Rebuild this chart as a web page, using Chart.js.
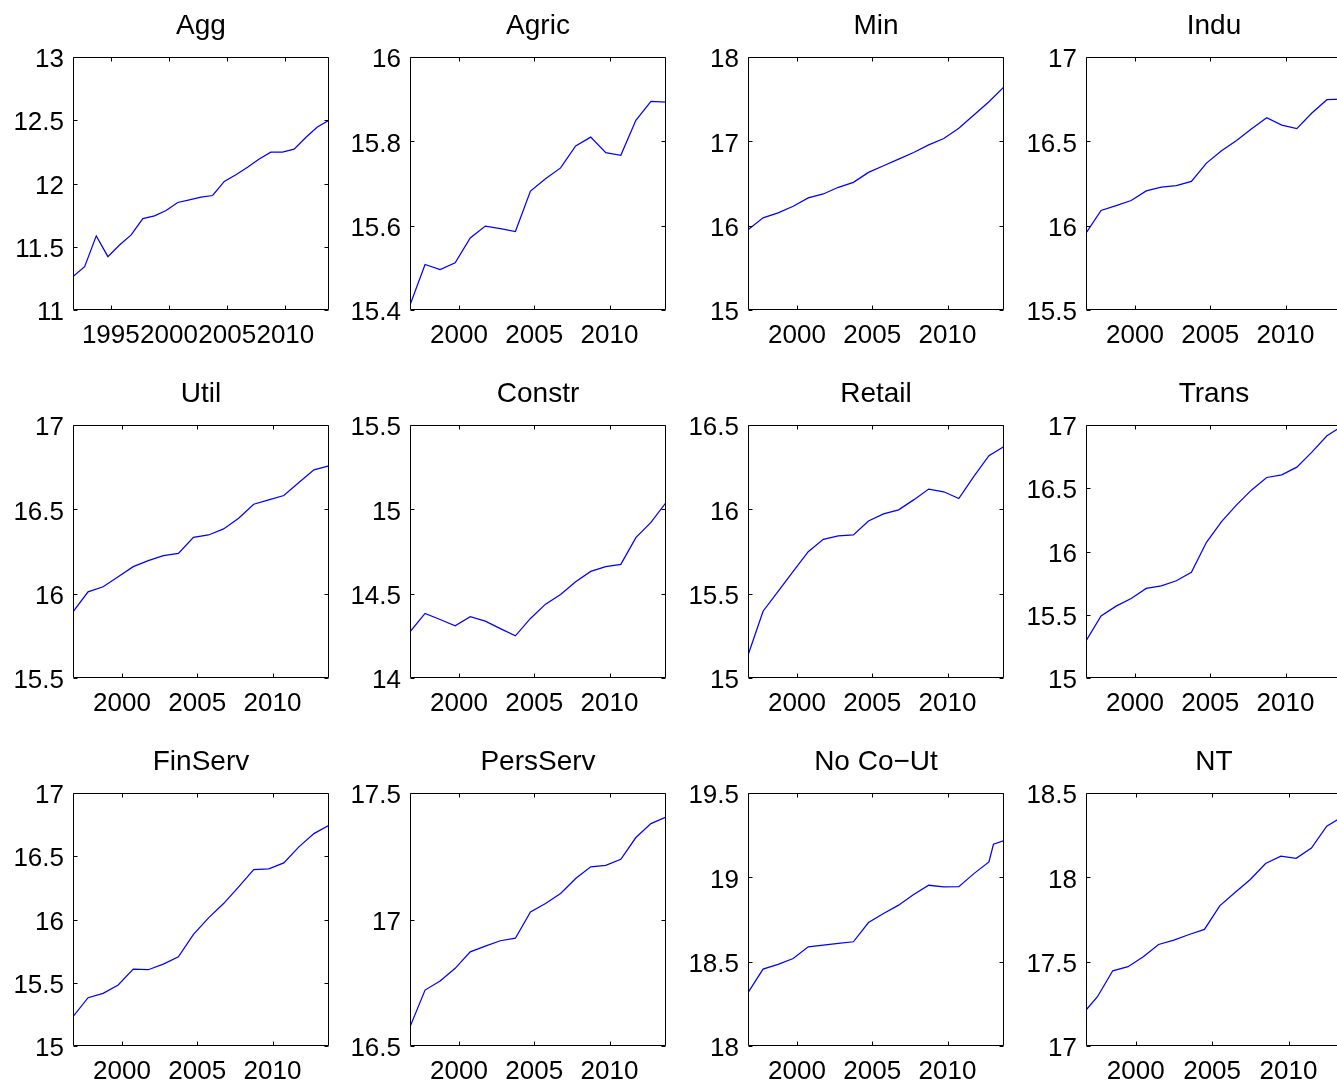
<!DOCTYPE html>
<html>
<head>
<meta charset="utf-8">
<title>Sector series</title>
<script src="https://cdn.jsdelivr.net/npm/chart.js@4.4.0/dist/chart.umd.min.js"></script>
<style>
  html, body { margin: 0; padding: 0; background: #fff; overflow: hidden; }
  #grid { position: relative; width: 1337px; height: 1084px; overflow: hidden; }
  #grid canvas { position: absolute; }
</style>
</head>
<body>
<div id="grid"></div>
<script>
// x values (year fractions as plotted)
var yearsAgg = [1991.75, 1992.75, 1993.75, 1994.75, 1995.75, 1996.75, 1997.75, 1998.75,
  1999.75, 2000.75, 2001.75, 2002.75, 2003.75, 2004.75, 2005.75, 2006.75, 2007.75,
  2008.75, 2009.75, 2010.75, 2011.75, 2012.75, 2013.75];
var years = [1996.75, 1997.75, 1998.75, 1999.75, 2000.75, 2001.75, 2002.75, 2003.75,
  2004.75, 2005.75, 2006.75, 2007.75, 2008.75, 2009.75, 2010.75, 2011.75, 2012.75, 2013.75];
var yearsNoCoUt = [1996.75, 1997.75, 1998.75, 1999.75, 2000.75, 2001.75, 2002.75, 2003.75,
  2004.75, 2005.75, 2006.75, 2007.75, 2008.75, 2009.75, 2010.75, 2011.75, 2012.75, 2013.05, 2013.75];
var yearsNT = [1996.75, 1997.5, 1998.5, 1999.5, 2000.5, 2001.5, 2002.5, 2003.5, 2004.5,
  2005.5, 2006.5, 2007.5, 2008.5, 2009.5, 2010.5, 2011.5, 2012.5, 2013.5];

var titles = ["Agg", "Agric", "Min", "Indu", "Util", "Constr", "Retail", "Trans",
  "FinServ", "PersServ", "No Co\u2212Ut", "NT"];

var agg = [11.264, 11.343, 11.586, 11.422, 11.514, 11.594, 11.723, 11.744, 11.786, 11.850,
  11.871, 11.892, 11.905, 12.016, 12.069, 12.129, 12.193, 12.248, 12.248, 12.272, 12.364, 12.446, 12.499];
var agric = [15.412, 15.508, 15.496, 15.512, 15.571, 15.599, 15.593, 15.586, 15.682, 15.711,
  15.737, 15.789, 15.810, 15.773, 15.767, 15.850, 15.895, 15.893];
var mining = [15.951, 16.093, 16.152, 16.230, 16.329, 16.376, 16.455, 16.514, 16.632, 16.710,
  16.789, 16.867, 16.958, 17.033, 17.155, 17.312, 17.469, 17.646];
var indu = [15.955, 16.090, 16.119, 16.149, 16.206, 16.228, 16.238, 16.262, 16.371, 16.444,
  16.505, 16.575, 16.640, 16.596, 16.575, 16.668, 16.747, 16.750];
var util = [15.892, 16.011, 16.041, 16.100, 16.160, 16.196, 16.225, 16.239, 16.334, 16.348,
  16.384, 16.447, 16.530, 16.556, 16.582, 16.659, 16.734, 16.758];
var constr = [14.274, 14.383, 14.347, 14.309, 14.363, 14.337, 14.293, 14.250, 14.353, 14.438,
  14.495, 14.571, 14.632, 14.660, 14.674, 14.832, 14.923, 15.040];
var retail = [15.135, 15.396, 15.513, 15.632, 15.749, 15.822, 15.842, 15.848, 15.931, 15.973,
  15.997, 16.056, 16.120, 16.104, 16.064, 16.195, 16.318, 16.373];
var trans = [15.293, 15.491, 15.568, 15.629, 15.708, 15.729, 15.769, 15.835, 16.073, 16.236,
  16.369, 16.487, 16.585, 16.606, 16.667, 16.786, 16.915, 16.990];
var finServ = [15.232, 15.382, 15.416, 15.482, 15.608, 15.603, 15.647, 15.705, 15.882, 16.013,
  16.126, 16.258, 16.395, 16.400, 16.447, 16.574, 16.679, 16.745];
var persServ = [16.576, 16.721, 16.757, 16.807, 16.872, 16.895, 16.916, 16.926, 17.030, 17.063,
  17.103, 17.162, 17.208, 17.214, 17.238, 17.324, 17.379, 17.405];
var noCoUt = [18.316, 18.456, 18.484, 18.519, 18.588, 18.598, 18.608, 18.618, 18.732, 18.786,
  18.835, 18.898, 18.953, 18.943, 18.945, 19.022, 19.091, 19.196, 19.218];
var nt = [17.213, 17.292, 17.446, 17.470, 17.529, 17.602, 17.628, 17.661, 17.691, 17.831,
  17.910, 17.987, 18.082, 18.125, 18.113, 18.174, 18.303, 18.358];

// tick labels
var xTicksAgg = [1995, 2000, 2005, 2010];
var xTicks = [2000, 2005, 2010];
var yTicksAgg = [11, 11.5, 12, 12.5, 13];
var yTicksAgric = [15.4, 15.6, 15.8, 16];
var yTicksMin = [15, 16, 17, 18];
var yTicksIndu = [15.5, 16, 16.5, 17];
var yTicksUtil = [15.5, 16, 16.5, 17];
var yTicksConstr = [14, 14.5, 15, 15.5];
var yTicksRetail = [15, 15.5, 16, 16.5];
var yTicksTrans = [15, 15.5, 16, 16.5, 17];
var yTicksFinServ = [15, 15.5, 16, 16.5, 17];
var yTicksPersServ = [16.5, 17, 17.5];
var yTicksNoCoUt = [18, 18.5, 19, 19.5];
var yTicksNT = [17, 17.5, 18, 18.5];

document.addEventListener("DOMContentLoaded", function() {
  var grid = document.getElementById("grid");

  var seriesX = [yearsAgg, years, years, years, years, years, years, years, years, years, yearsNoCoUt, yearsNT];
  var seriesY = [agg, agric, mining, indu, util, constr, retail, trans, finServ, persServ, noCoUt, nt];
  var panelXTicks = [xTicksAgg, xTicks, xTicks, xTicks, xTicks, xTicks, xTicks, xTicks, xTicks, xTicks, xTicks, xTicks];
  var panelYTicks = [yTicksAgg, yTicksAgric, yTicksMin, yTicksIndu, yTicksUtil, yTicksConstr,
    yTicksRetail, yTicksTrans, yTicksFinServ, yTicksPersServ, yTicksNoCoUt, yTicksNT];

  // plot frame positions on the page
  var colLeft = [73, 410, 748, 1086];
  var rowTop = [57, 425, 793];
  var plotW = 256, plotH = 253;
  var axisW = 73, titleH = 57, xAxisH = 45;

  var font = "'Liberation Sans', Arial, Helvetica, sans-serif";

  // MATLAB style box with inward tick marks on all four sides
  var boxTicks = {
    id: "boxTicks",
    afterDatasetsDraw: function(chart) {
      var a = chart.chartArea;
      var ctx = chart.ctx;
      var xs = chart.scales.x, ys = chart.scales.y;
      var l = Math.round(a.left) + 0.5, r = Math.round(a.right) - 0.5;
      var t = Math.round(a.top) + 0.5, b = Math.round(a.bottom) - 0.5;
      ctx.save();
      ctx.strokeStyle = "#000";
      ctx.lineWidth = 1;
      ctx.beginPath();
      ctx.rect(l, t, r - l, b - t);
      xs.ticks.forEach(function(tk) {
        var px = Math.round(xs.getPixelForValue(tk.value)) + 0.5;
        ctx.moveTo(px, b); ctx.lineTo(px, b - 4);
        ctx.moveTo(px, t); ctx.lineTo(px, t + 4);
      });
      ys.ticks.forEach(function(tk) {
        var py = Math.round(ys.getPixelForValue(tk.value)) + 0.5;
        ctx.moveTo(l, py); ctx.lineTo(l + 4, py);
        ctx.moveTo(r, py); ctx.lineTo(r - 4, py);
      });
      ctx.stroke();
      ctx.restore();
    }
  };

  var makePanel = function(i) {
    var col = i % 4, row = Math.floor(i / 4);
    var canvas = document.createElement("canvas");
    var w = axisW + plotW + axisW, h = titleH + plotH + xAxisH;
    canvas.width = w;
    canvas.height = h;
    canvas.style.width = w + "px";
    canvas.style.height = h + "px";
    canvas.style.left = (colLeft[col] - axisW) + "px";
    canvas.style.top = (rowTop[row] - titleH) + "px";
    grid.appendChild(canvas);

    var xv = seriesX[i], yv = seriesY[i];
    var points = [];
    for (var k = 0; k < yv.length; k++)
      points.push({ x: xv[k], y: yv[k] });

    var xt = panelXTicks[i], yt = panelYTicks[i];

    new Chart(canvas.getContext("2d"), {
      type: "line",
      data: {
        datasets: [{
          data: points,
          borderColor: "#0000ff",
          borderWidth: 1.25,
          pointRadius: 0,
          fill: false,
          tension: 0
        }]
      },
      options: {
        responsive: false,
        animation: false,
        devicePixelRatio: 1,
        layout: { padding: 0 },
        plugins: {
          legend: { display: false },
          tooltip: { enabled: false },
          title: {
            display: true,
            text: titles[i],
            color: "#000",
            font: { family: font, size: 28, weight: "normal" },
            padding: { top: 9, bottom: 14.4 }
          }
        },
        scales: {
          x: {
            type: "linear",
            min: xv[0],
            max: xv[xv.length - 1],
            grid: { display: false, drawTicks: false },
            border: { display: false },
            ticks: {
              color: "#000",
              font: { family: font, size: 26 },
              padding: 10,
              maxRotation: 0,
              autoSkip: false,
              callback: function(v) { return String(v); }
            },
            afterBuildTicks: function(scale) {
              scale.ticks = xt.map(function(v) { return { value: v }; });
            },
            afterFit: function(scale) { scale.height = xAxisH; }
          },
          y: {
            type: "linear",
            min: yt[0],
            max: yt[yt.length - 1],
            grid: { display: false, drawTicks: false },
            border: { display: false },
            ticks: {
              color: "#000",
              font: { family: font, size: 26 },
              padding: 9,
              labelOffset: 3,
              autoSkip: false,
              callback: function(v) { return String(v); }
            },
            afterBuildTicks: function(scale) {
              scale.ticks = yt.map(function(v) { return { value: v }; });
            },
            afterFit: function(scale) { scale.width = axisW; }
          },
          // empty right axis so the title centres over the plot box
          yr: {
            type: "linear",
            position: "right",
            min: 0,
            max: 1,
            grid: { display: false, drawTicks: false },
            border: { display: false },
            ticks: { display: false },
            afterFit: function(scale) { scale.width = axisW; }
          }
        }
      },
      plugins: [boxTicks]
    });
  };

  for (var i = 0; i < titles.length; i++)
    makePanel(i);
});
</script>
</body>
</html>
